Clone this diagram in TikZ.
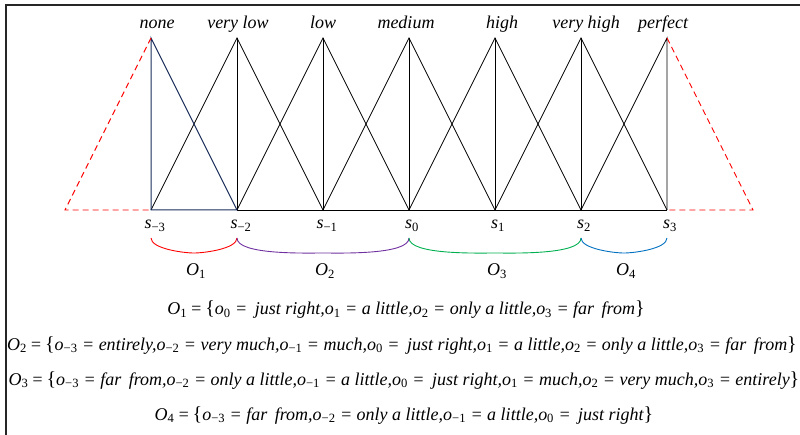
\documentclass[tikz,border=0pt]{standalone}
\usepackage{fontspec}
\setmainfont{Liberation Serif}
\definecolor{navyl}{RGB}{25,45,90}
\definecolor{oA}{RGB}{255,0,0}
\definecolor{oB}{RGB}{112,48,160}
\definecolor{oC}{RGB}{0,176,80}
\definecolor{oD}{RGB}{0,112,192}
\newcommand\vo[1]{\textit{o}\textsubscript{\upshape #1}}
\newcommand\vO[1]{\textit{O}\textsubscript{\upshape #1}}
\newcommand\lb{{\fontsize{20}{20}\selectfont\upshape\{}}
\newcommand\rb{{\fontsize{20}{20}\selectfont\upshape\}}}
\begin{document}
\begin{tikzpicture}[x=1pt,y=-1pt,
  mf/.style={line width=0.8pt,black},
  nv/.style={line width=1pt,navyl},
  rd/.style={line width=0.9pt,red,dash pattern=on 6pt off 4pt},
  brc/.style={line width=0.9pt},
  toplab/.style={font=\fontsize{18}{20}\selectfont\itshape,inner sep=0pt},
  slab/.style={font=\fontsize{18}{20}\selectfont,inner sep=0pt},
  olab/.style={font=\fontsize{18}{20}\selectfont,inner sep=0pt},
  eq/.style={font=\fontsize{18}{20}\selectfont\itshape,inner sep=0pt}]
\useasboundingbox (0,0) rectangle (800,435);
\draw[line width=1.3pt,black!85] (6,435) -- (6,5) -- (800,5);
% coordinates
\foreach \i in {0,...,6}{
  \coordinate (t\i) at ({151+86*\i},38);
  \coordinate (b\i) at ({151+86*\i},210);
}
\coordinate (lx) at (65,210);
\coordinate (rx) at (753,210);
% baseline
\draw[mf] (b1) -- (b6);
% triangles
\foreach \i in {1,...,5}{
  \pgfmathtruncatemacro\p{\i-1}
  \pgfmathtruncatemacro\n{\i+1}
  \draw[mf] (b\p) -- (t\i) -- (b\n);
  \draw[mf] (t\i) -- (b\i);
}
\draw[mf] (b5) -- (t6) -- (b6);
\draw[nv] (t0) -- (b0) -- (b1) -- cycle;
% red dashed extensions
\draw[rd] (t0) -- (lx) -- (b0);
\draw[rd] (t6) -- (rx) -- (b6);
% top labels
\node[toplab,anchor=base] (n0) at (157,29) {none};
\node[toplab,anchor=base] (n1) at (238,29) {very low};
\node[toplab,anchor=base] (n2) at (323,29) {low};
\node[toplab,anchor=base] (n3) at (406,29) {medium};
\node[toplab,anchor=base] (n4) at (502,29) {high};
\node[toplab,anchor=base] (n5) at (586,29) {very high};
\node[toplab,anchor=base] (n6) at (663,29) {perfect};
% s labels
\node[slab,anchor=base] (s0) at (155,229) {\textit{s}\textsubscript{−3}};
\node[slab,anchor=base] (s1) at (241,229) {\textit{s}\textsubscript{−2}};
\node[slab,anchor=base] (s2) at (327,229) {\textit{s}\textsubscript{−1}};
\node[slab,anchor=base] (s3) at (412,229) {\textit{s}\textsubscript{0}};
\node[slab,anchor=base] (s4) at (498,229) {\textit{s}\textsubscript{1}};
\node[slab,anchor=base] (s5) at (584,229) {\textit{s}\textsubscript{2}};
\node[slab,anchor=base] (s6) at (670,229) {\textit{s}\textsubscript{3}};
% brace points
\foreach \i in {0,...,6}{
  \coordinate (u\i) at ({151+86*\i},238);
}
\coordinate (m1) at (194,253);
\coordinate (m2) at (323,253);
\coordinate (m3) at (495,253);
\coordinate (m4) at (624,253);
\draw[brc,oA] (u0) to[out=-90,in=180,looseness=0.6] (m1) to[out=0,in=-90,looseness=0.6] (u1);
\draw[brc,oB] (u1) to[out=-90,in=180,looseness=0.5] (m2) to[out=0,in=-90,looseness=0.5] (u3);
\draw[brc,oC] (u3) to[out=-90,in=180,looseness=0.5] (m3) to[out=0,in=-90,looseness=0.5] (u5);
\draw[brc,oD] (u5) to[out=-90,in=180,looseness=0.6] (m4) to[out=0,in=-90,looseness=0.6] (u6);
% O labels
\node[olab,anchor=base] (O1) at (196,276) {\vO{1}};
\node[olab,anchor=base] (O2) at (325,276) {\vO{2}};
\node[olab,anchor=base] (O3) at (497,276) {\vO{3}};
\node[olab,anchor=base] (O4) at (626,276) {\vO{4}};
% equations
\node[eq,anchor=base] (e1) at (406,315) {\vO{1}\,=\,\lb\vo{0} =\, just right,\vo{1} = a little,\vo{2} = only a little,\vo{3} = far\, from\rb};
\node[eq,anchor=base] (e2) at (402,350) {\vO{2}\,=\,\lb\vo{−3} = entirely,\vo{−2} = very much,\vo{−1} = much,\vo{0} =\, just right,\vo{1} = a little,\vo{2} = only a little,\vo{3} = far\, from\rb};
\node[eq,anchor=base] (e3) at (404,385) {\vO{3}\,=\,\lb\vo{−3} = far\, from,\vo{−2} = only a little,\vo{−1} = a little,\vo{0} =\, just right,\vo{1} = much,\vo{2} = very much,\vo{3} = entirely\rb};
\node[eq,anchor=base] (e4) at (404,420) {\vO{4}\,=\,\lb\vo{−3} = far\, from,\vo{−2} = only a little,\vo{−1} = a little,\vo{0} =\, just right\rb};
\end{tikzpicture}
\end{document}
